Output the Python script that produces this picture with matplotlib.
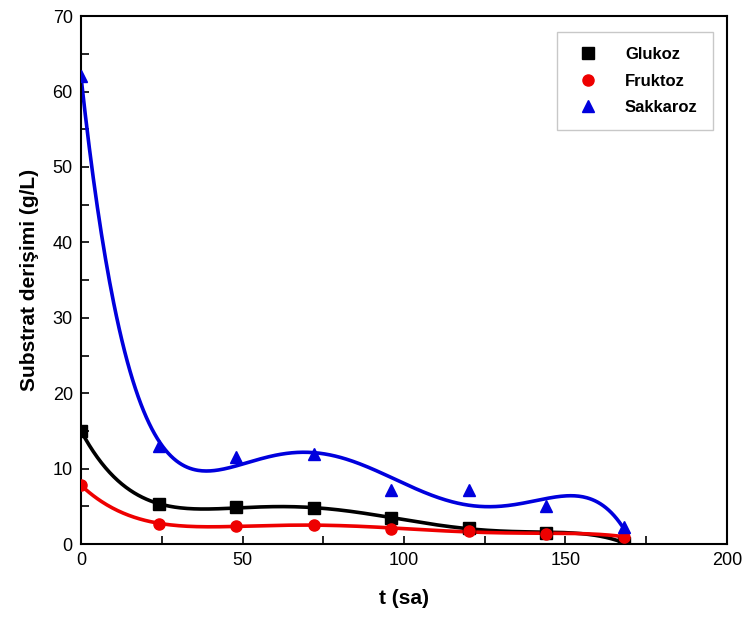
import numpy as np
import matplotlib
matplotlib.use("Agg")
from matplotlib import pyplot as plt

plt.rcParams['font.family'] = ['Liberation Sans', 'DejaVu Sans']

t = [0, 24, 48, 72, 96, 120, 144, 168]
glukoz = [15.0, 5.3, 4.9, 4.8, 3.4, 2.2, 1.5, 0.2]
fruktoz = [7.8, 2.7, 2.45, 2.5, 2.0, 1.8, 1.35, 1.0]
sakkaroz = [62.0, 13.0, 11.5, 12.0, 7.2, 7.2, 5.0, 2.3]
labels = ["Glukoz", "Fruktoz", "Sakkaroz"]

fig = plt.figure(figsize=(7.44, 6.19), dpi=100)
ax = fig.add_axes([0.109, 0.121, 0.868, 0.853])

xs = np.linspace(0, 168, 400)
series = [(glukoz, "black", "s"), (fruktoz, "#ee0000", "o"), (sakkaroz, "#0000dd", "^")]
for (vals, color, marker), lab in zip(series, labels):
    # smooth trend curve: 5th order least-squares fit of the points
    p = np.polyfit(t, vals, 5)
    ax.plot(xs, np.polyval(p, xs), color=color, lw=2.6, zorder=2)
    ax.plot(t, vals, linestyle="none", marker=marker, color=color, ms=8,
            label=lab, zorder=3)

ax.set_xlim(0, 200)
ax.set_ylim(0, 70)
ax.set_xticks(np.arange(0, 201, 25))
ax.set_xticklabels([str(v) if v % 50 == 0 else "" for v in range(0, 201, 25)])
ax.set_yticks(np.arange(0, 71, 5))
ax.set_yticklabels([str(v) if v % 10 == 0 else "" for v in range(0, 71, 5)])
ax.tick_params(direction="in", length=6, width=1.2, labelsize=13, pad=6)
for s in ax.spines.values():
    s.set_linewidth(1.5)

ax.set_xlabel("t (sa)", fontsize=15, fontweight="bold", labelpad=14)
ax.set_ylabel("Substrat derişimi (g/L)", fontsize=15, fontweight="bold", labelpad=10)

leg = ax.legend(loc="upper right", bbox_to_anchor=(0.978, 0.97), fancybox=False,
                edgecolor="#bbbbbb", prop={"weight": "bold", "size": 12},
                handletextpad=1.2, borderpad=0.9, labelspacing=0.7, borderaxespad=0)
leg.get_frame().set_linewidth(1.0)

fig.savefig("out.png", dpi=100)
